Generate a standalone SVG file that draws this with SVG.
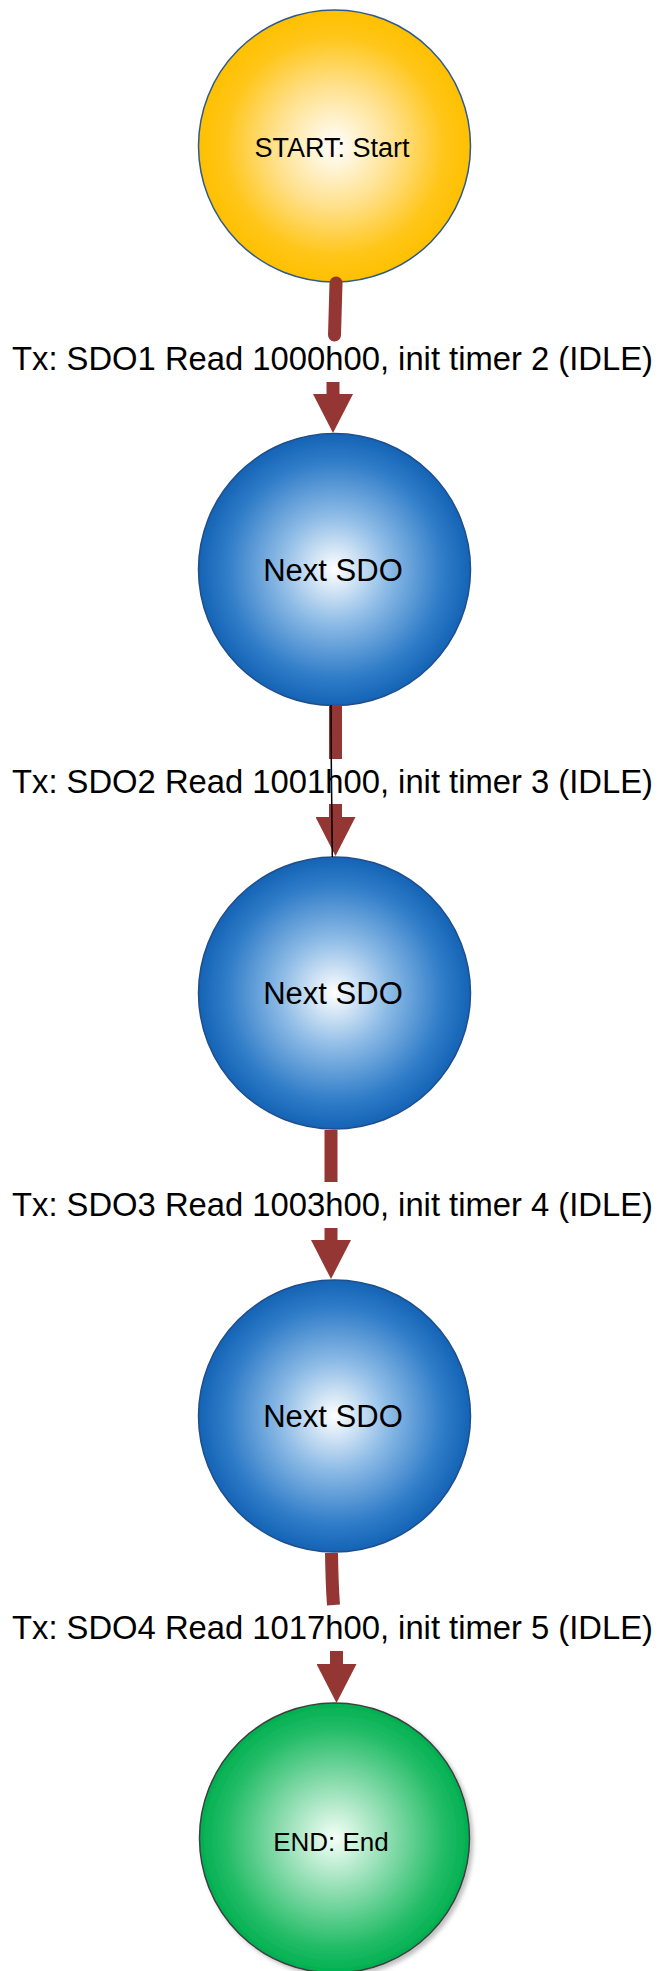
<svg xmlns="http://www.w3.org/2000/svg" width="664" height="1971" viewBox="0 0 664 1971">
  <style>
    .lbl { font-family: "Liberation Sans", Arial, sans-serif; font-size: 33px; fill: #000; text-anchor: middle; }
    .ntxt { font-family: "Liberation Sans", Arial, sans-serif; fill: #000; text-anchor: middle; }
    .shaft { fill: none; stroke: #943634; stroke-width: 13; }
  </style>
  <defs>
    <radialGradient id="gGold" cx="0.5" cy="0.5" r="0.5">
      <stop offset="0" stop-color="#FFFFFF"/>
      <stop offset="0.45" stop-color="#FFE08A"/>
      <stop offset="0.8" stop-color="#FFC61A"/>
      <stop offset="1" stop-color="#FFC000"/>
    </radialGradient>
    <radialGradient id="gBlue" cx="0.5" cy="0.5" r="0.5">
      <stop offset="0" stop-color="#FFFFFF"/>
      <stop offset="0.4" stop-color="#8DBBE6"/>
      <stop offset="0.8" stop-color="#2F7CC8"/>
      <stop offset="1" stop-color="#1463B5"/>
    </radialGradient>
    <radialGradient id="gGreen" cx="0.5" cy="0.5" r="0.5">
      <stop offset="0" stop-color="#F5FFF8"/>
      <stop offset="0.4" stop-color="#8EDDB0"/>
      <stop offset="0.8" stop-color="#25BD68"/>
      <stop offset="1" stop-color="#00B050"/>
    </radialGradient>
    <filter id="shadow" x="-10%" y="-10%" width="125%" height="125%">
      <feDropShadow dx="3" dy="3" stdDeviation="2" flood-color="#000" flood-opacity="0.25"/>
    </filter>
    <marker id="head" viewBox="0 0 39 40" markerUnits="userSpaceOnUse" markerWidth="39" markerHeight="40" refX="0" refY="20" orient="auto">
      <path d="M0,0 L39,20 L0,40 Z" fill="#943634"/>
    </marker>
  </defs>

  <g id="node-start">
    <circle cx="334.5" cy="146" r="136" fill="url(#gGold)" stroke="#2E5A8C" stroke-width="1.5"/>
    <text class="ntxt" x="332" y="157" font-size="27">START: Start</text>
  </g>
  <g id="node-sdo1">
    <circle cx="334.5" cy="569.5" r="136" fill="url(#gBlue)" stroke="#1F4E8A" stroke-width="1.5"/>
    <text class="ntxt" x="333" y="581" font-size="31">Next SDO</text>
  </g>
  <g id="node-sdo2">
    <circle cx="334.5" cy="993" r="136" fill="url(#gBlue)" stroke="#1F4E8A" stroke-width="1.5"/>
    <text class="ntxt" x="333" y="1004" font-size="31">Next SDO</text>
  </g>
  <g id="node-sdo3">
    <circle cx="334.5" cy="1416" r="136" fill="url(#gBlue)" stroke="#1F4E8A" stroke-width="1.5"/>
    <text class="ntxt" x="333" y="1427" font-size="31">Next SDO</text>
  </g>
  <g id="node-end">
    <circle cx="334.5" cy="1838" r="135" fill="url(#gGreen)" stroke="#3F3F3F" stroke-width="1.5" filter="url(#shadow)"/>
    <text class="ntxt" x="331" y="1851" font-size="26">END: End</text>
  </g>

  <g id="connectors">
    <g id="edge1">
      <path class="shaft" d="M336,283 L334.5,335" stroke-linecap="round"/>
      <path class="shaft" d="M333,382 L333,394" marker-end="url(#head)"/>
      <text class="lbl" x="332.5" y="370" textLength="641" lengthAdjust="spacingAndGlyphs">Tx: SDO1 Read 1000h00, init timer 2 (IDLE)</text>
    </g>
    <g id="edge2">
      <path class="shaft" d="M335.5,705 L335.5,759"/>
      <path class="shaft" d="M335.5,804 L335.5,817" marker-end="url(#head)"/>
      <text class="lbl" x="332.5" y="793" textLength="641" lengthAdjust="spacingAndGlyphs">Tx: SDO2 Read 1001h00, init timer 3 (IDLE)</text>
      <path d="M331,705 L331.3,762 L332.3,857" fill="none" stroke="#000" stroke-width="1.5"/>
    </g>
    <g id="edge3">
      <path class="shaft" d="M331,1130 L331,1182"/>
      <path class="shaft" d="M331,1228 L331,1240" marker-end="url(#head)"/>
      <text class="lbl" x="332.5" y="1216" textLength="641" lengthAdjust="spacingAndGlyphs">Tx: SDO3 Read 1003h00, init timer 4 (IDLE)</text>
    </g>
    <g id="edge4">
      <path class="shaft" d="M331.5,1553 Q332,1585 333.5,1605"/>
      <path class="shaft" d="M336.5,1651 L336.5,1664" marker-end="url(#head)"/>
      <text class="lbl" x="332.5" y="1639" textLength="641" lengthAdjust="spacingAndGlyphs">Tx: SDO4 Read 1017h00, init timer 5 (IDLE)</text>
    </g>
  </g>
</svg>
